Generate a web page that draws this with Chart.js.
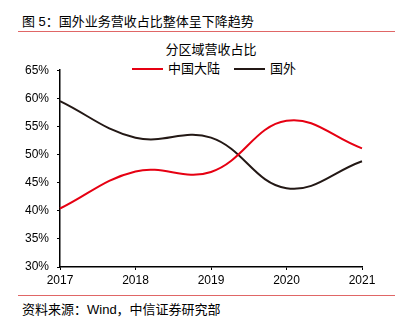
<!DOCTYPE html>
<html lang="zh">
<head>
    <meta charset="UTF-8">
    <title>分区域营收占比</title>
    <script src="https://cdn.jsdelivr.net/npm/chart.js@4.4.0/dist/chart.umd.min.js"></script>
    <style>
        * { box-sizing: border-box; }
        body {
            margin: 0;
            width: 403px;
            height: 324px;
            position: relative;
            overflow: hidden;
            background: #fff;
            font-family: "Liberation Sans", "Noto Sans CJK SC", sans-serif;
            color: #000;
        }
        .title {
            position: absolute;
            left: 22px;
            top: 13px;
            font-size: 13px;
            line-height: 18px;
        }
        .rule {
            position: absolute;
            left: 18px;
            width: 377px;
            height: 1px;
            background: #e06666;
        }
        .subtitle {
            position: absolute;
            left: 0;
            width: 422px;
            top: 41px;
            text-align: center;
            font-size: 13px;
            line-height: 18px;
        }
        .legend {
            position: absolute;
            top: 60px;
            left: 132px;
            font-size: 13px;
            line-height: 18px;
            display: flex;
            align-items: center;
        }
        .legend .sw {
            display: inline-block;
            width: 31px;
            height: 2px;
            margin-right: 5px;
        }
        .source {
            position: absolute;
            left: 22px;
            top: 301px;
            font-size: 13px;
            line-height: 18px;
        }
        #wrap {
            position: absolute;
            left: 0;
            top: 55px;
            width: 403px;
            height: 240px;
        }
    </style>
</head>
<body>
    <div class="title">图 5：国外业务营收占比整体呈下降趋势</div>
    <div class="rule" style="top:31px"></div>
    <div class="subtitle">分区域营收占比</div>
    <div class="legend" id="legend"></div>
    <div id="wrap"><canvas id="chart"></canvas></div>
    <div class="rule" style="top:295px"></div>
    <div class="source">资料来源：Wind，中信证券研究部</div>

    <script>
        const years = ['2017', '2018', '2019', '2020', '2021'];
        const mainland = [40.4, 47.0, 46.9, 56.0, 51.1];
        const overseas = [59.5, 53.0, 53.0, 44.0, 48.8];
        const seriesNames = ['中国大陆', '国外'];
        const seriesColors = ['#e60012', '#231815'];

        const legend = document.getElementById('legend');
        seriesNames.forEach(function (name, i) {
            const item = document.createElement('span');
            item.style.display = 'flex';
            item.style.alignItems = 'center';
            item.style.marginRight = i === 0 ? '14px' : '0';
            item.innerHTML = '<span class="sw" style="background:' + seriesColors[i] + '"></span>' + name;
            legend.appendChild(item);
        });

        const tickFont = { family: '"Liberation Sans", sans-serif', size: 12 };

        new Chart(document.getElementById('chart'), {
            type: 'line',
            data: {
                labels: years,
                datasets: [
                    {
                        label: seriesNames[0],
                        data: mainland,
                        borderColor: seriesColors[0],
                        borderWidth: 2,
                        pointRadius: 0,
                        tension: 0.4,
                        fill: false
                    },
                    {
                        label: seriesNames[1],
                        data: overseas,
                        borderColor: seriesColors[1],
                        borderWidth: 2,
                        pointRadius: 0,
                        tension: 0.4,
                        fill: false
                    }
                ]
            },
            options: {
                responsive: true,
                maintainAspectRatio: false,
                animation: false,
                layout: { padding: { top: 10, right: 41, left: 0, bottom: 0 } },
                plugins: {
                    legend: { display: false },
                    title: { display: false },
                    tooltip: { enabled: false }
                },
                scales: {
                    x: {
                        offset: false,
                        grid: { drawOnChartArea: false, drawTicks: true, tickLength: 3, color: '#000' },
                        border: { color: '#000', width: 1.5 },
                        ticks: { color: '#000', font: tickFont, padding: 3, maxRotation: 0 },
                        afterFit: function (axis) { axis.height = 28; }
                    },
                    y: {
                        min: 30,
                        max: 65,
                        grid: { drawOnChartArea: false, drawTicks: true, tickLength: 3, color: '#000' },
                        border: { color: '#000', width: 1.5 },
                        ticks: {
                            stepSize: 5,
                            color: '#000',
                            font: tickFont,
                            padding: 8,
                            callback: function (v) { return v + '%'; }
                        },
                        afterFit: function (axis) { axis.width = 60; }
                    }
                }
            }
        });
    </script>
</body>
</html>
